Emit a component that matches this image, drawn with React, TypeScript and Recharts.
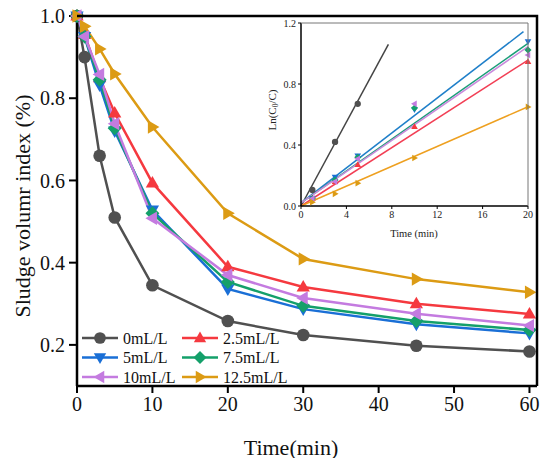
import { LineChart, Line, XAxis, YAxis, Label } from 'recharts'

// settling curves of sludge volume index, six dosages
const TIME = [0, 1, 3, 5, 10, 20, 30, 45, 60]
const SVI_0 = [1.0, 0.9, 0.66, 0.51, 0.345, 0.258, 0.224, 0.198, 0.184]
const SVI_25 = [1.0, 0.955, 0.85, 0.764, 0.594, 0.39, 0.341, 0.3, 0.275]
const SVI_5 = [1.0, 0.95, 0.832, 0.72, 0.528, 0.336, 0.287, 0.25, 0.228]
const SVI_75 = [1.0, 0.95, 0.845, 0.727, 0.52, 0.353, 0.295, 0.258, 0.236]
const SVI_10 = [1.0, 0.95, 0.858, 0.738, 0.508, 0.37, 0.314, 0.276, 0.247]
const SVI_125 = [1.0, 0.975, 0.92, 0.859, 0.73, 0.52, 0.409, 0.36, 0.328]

const X_TICKS = [0, 10, 20, 30, 40, 50, 60]
const Y_TICKS = [0.2, 0.4, 0.6, 0.8, 1.0]

// inset: Ln(C0/C) against time, points and fitted lines
const IN_TIME = [1, 3, 5, 10, 20]
const IN_TIME_0 = [1, 3, 5]
const LN_0 = [0.105, 0.42, 0.67]
const LN_25 = [0.05, 0.16, 0.27, 0.52, 0.946]
const LN_5 = [0.05, 0.19, 0.33, 0.632, 1.078]
const LN_75 = [0.05, 0.17, 0.32, 0.643, 1.023]
const LN_10 = [0.05, 0.16, 0.31, 0.67, 0.99]
const LN_125 = [0.025, 0.08, 0.15, 0.315, 0.65]

const FIT_X_0 = [0, 7.7]
const FIT_Y_0 = [0.0, 1.06]
const FIT_X = [0, 20]
const FIT_X_5 = [0, 19.6]
const FIT_Y_25 = [0.0, 0.957]
const FIT_Y_5 = [0.02, 1.143]
const FIT_Y_75 = [0.02, 1.066]
const FIT_Y_10 = [0.02, 1.045]
const FIT_Y_125 = [0.0, 0.651]

const IN_X_TICKS = [0, 4, 8, 12, 16, 20]
const IN_Y_TICKS = [0, 0.4, 0.8, 1.2]

const SERIF = 'Liberation Serif'

type Shape = 'circle' | 'up' | 'down' | 'diamond' | 'left' | 'right'

const toRows = (xs: number[], ys: number[]) => xs.map((x, i) => ({ x, y: ys[i] }))

const SERIES = [
  { name: '0mL/L', values: SVI_0, color: '#505050', shape: 'circle' as Shape },
  { name: '2.5mL/L', values: SVI_25, color: '#f5393f', shape: 'up' as Shape },
  { name: '5mL/L', values: SVI_5, color: '#1a6fd6', shape: 'down' as Shape },
  { name: '7.5mL/L', values: SVI_75, color: '#14a06a', shape: 'diamond' as Shape },
  { name: '10mL/L', values: SVI_10, color: '#c47be0', shape: 'left' as Shape },
  { name: '12.5mL/L', values: SVI_125, color: '#dc9b14', shape: 'right' as Shape },
]

const INSET = [
  { id: 'k0', px: IN_TIME_0, py: LN_0, fx: FIT_X_0, fy: FIT_Y_0, color: '#505050', line: '#444444', shape: 'circle' as Shape },
  { id: 'k25', px: IN_TIME, py: LN_25, fx: FIT_X, fy: FIT_Y_25, color: '#f5393f', line: '#f23f55', shape: 'up' as Shape },
  { id: 'k5', px: IN_TIME, py: LN_5, fx: FIT_X_5, fy: FIT_Y_5, color: '#1a6fd6', line: '#1f7fc9', shape: 'down' as Shape },
  { id: 'k75', px: IN_TIME, py: LN_75, fx: FIT_X, fy: FIT_Y_75, color: '#14a06a', line: '#1a9e78', shape: 'diamond' as Shape },
  { id: 'k10', px: IN_TIME, py: LN_10, fx: FIT_X, fy: FIT_Y_10, color: '#c47be0', line: '#c98bdc', shape: 'left' as Shape },
  { id: 'k125', px: IN_TIME, py: LN_125, fx: FIT_X, fy: FIT_Y_125, color: '#dc9b14', line: '#eea020', shape: 'right' as Shape },
]

function Glyph({ shape, cx, cy, r, color }: { shape: Shape; cx: number; cy: number; r: number; color: string }) {
  const join = (arr: number[][]) => arr.map((q) => q.join(',')).join(' ')
  if (shape === 'circle') return <circle cx={cx} cy={cy} r={r * 0.9} fill={color} />
  let poly: number[][] = []
  if (shape === 'up') poly = [[cx, cy - r], [cx + r * 0.95, cy + r * 0.65], [cx - r * 0.95, cy + r * 0.65]]
  if (shape === 'down') poly = [[cx, cy + r], [cx + r * 0.95, cy - r * 0.65], [cx - r * 0.95, cy - r * 0.65]]
  if (shape === 'left') poly = [[cx - r, cy], [cx + r * 0.65, cy - r * 0.95], [cx + r * 0.65, cy + r * 0.95]]
  if (shape === 'right') poly = [[cx + r, cy], [cx - r * 0.65, cy - r * 0.95], [cx - r * 0.65, cy + r * 0.95]]
  if (shape === 'diamond') poly = [[cx, cy - r], [cx + r, cy], [cx, cy + r], [cx - r, cy]]
  return <polygon points={join(poly)} fill={color} />
}

const dotOf = (shape: Shape, color: string, r: number) => (props: any) => {
  const { cx, cy, index } = props
  if (cx == null || cy == null) return <g key={index} />
  return (
    <g key={index}>
      <Glyph shape={shape} cx={cx} cy={cy} r={r} color={color} />
    </g>
  )
}

const AXIS = { stroke: '#000', strokeWidth: 2.5 }
const TICK_LINE = { stroke: '#000', strokeWidth: 2 }

function KineticsInset() {
  const tick = { fill: '#222', fontSize: 10, fontFamily: SERIF }
  return (
    <div style={{ position: 'absolute', left: 250, top: 15 }}>
      <LineChart width={285} height={235} margin={{ top: 8, right: 7, bottom: 24, left: 25 }}>
        <XAxis
          dataKey="x" type="number" domain={[0, 20]} ticks={IN_X_TICKS} height={20}
          tick={tick} tickSize={3} tickMargin={2}
          axisLine={{ stroke: '#000', strokeWidth: 1.5 }} tickLine={{ stroke: '#000' }}
        >
          <Label content={() => (
            <text x={164} y={222} textAnchor="middle" fontSize={10.5} fontFamily={SERIF} fill="#222">Time (min)</text>
          )} />
        </XAxis>
        <YAxis
          type="number" domain={[0, 1.2]} ticks={IN_Y_TICKS} width={26}
          tick={tick} tickSize={3} tickMargin={2} tickFormatter={(v: number) => v.toFixed(1)}
          axisLine={{ stroke: '#000', strokeWidth: 1.5 }} tickLine={{ stroke: '#000' }}
        >
          <Label content={() => (
            <text x={22} y={95} textAnchor="middle" fontSize={11} fontFamily={SERIF} fill="#222"
              transform="rotate(-90 22 95)" dominantBaseline="central">
              Ln(C<tspan fontSize={7.5} dy={3}>0</tspan><tspan dy={-3}>/C)</tspan>
            </text>
          )} />
        </YAxis>
        {INSET.map((s) => (
          <Line key={s.id + '-fit'} data={toRows(s.fx, s.fy)} dataKey="y" stroke={s.line} strokeWidth={1.5}
            dot={false} isAnimationActive={false} />
        ))}
        {INSET.map((s) => (
          <Line key={s.id + '-pts'} data={toRows(s.px, s.py)} dataKey="y" stroke="none" strokeWidth={0}
            dot={dotOf(s.shape, s.color, 3.5)} isAnimationActive={false} />
        ))}
      </LineChart>
    </div>
  )
}

function LegendAndFrame() {
  const rows = [338, 357.5, 377]
  const cols = [82, 182]
  return (
    <svg width={550} height={466} style={{ position: 'absolute', left: 0, top: 0, pointerEvents: 'none' }}>
      <path d="M77 16 H537 V386" fill="none" stroke="#000" strokeWidth={2.5} />
      <path d="M301 23 H528 V206" fill="none" stroke="#777" strokeWidth={1} />
      {SERIES.map((s, i) => {
        const x0 = cols[i % 2]
        const y = rows[Math.floor(i / 2)]
        return (
          <g key={s.name}>
            <line x1={x0} x2={x0 + 36} y1={y} y2={y} stroke={s.color} strokeWidth={2.5} />
            <Glyph shape={s.shape} cx={x0 + 18} cy={y} r={6.5} color={s.color} />
            <text x={x0 + 41} y={y} dominantBaseline="central" fontSize={16} fontFamily={SERIF} fill="#111">{s.name}</text>
          </g>
        )
      })}
    </svg>
  )
}

export default function App() {
  const tick = { fill: '#111', fontSize: 20, fontFamily: SERIF }
  return (
    <div style={{ position: 'relative', width: 550, height: 466, margin: -8, background: '#fff' }}>
      <LineChart width={550} height={466} margin={{ top: 16, right: 13, bottom: 50, left: 17 }}>
        <XAxis
          dataKey="x" type="number" domain={[0, 61]} ticks={X_TICKS} height={30}
          tick={tick} tickSize={7} tickMargin={4} axisLine={AXIS} tickLine={TICK_LINE}
        >
          <Label content={() => (
            <text x={291} y={455} textAnchor="middle" fontSize={22} fontFamily={SERIF} fill="#111">Time(min)</text>
          )} />
        </XAxis>
        <YAxis
          type="number" domain={[0.1, 1.0]} ticks={Y_TICKS} width={60}
          tick={tick} tickSize={8} tickMargin={4} tickFormatter={(v: number) => v.toFixed(1)}
          axisLine={AXIS} tickLine={TICK_LINE}
        >
          <Label content={() => (
            <text x={22} y={206} textAnchor="middle" dominantBaseline="central" fontSize={22}
              fontFamily={SERIF} fill="#111" transform="rotate(-90 22 206)">Sludge volumr index (%)</text>
          )} />
        </YAxis>
        {SERIES.map((s) => (
          <Line key={s.name} data={toRows(TIME, s.values)} dataKey="y" name={s.name} stroke={s.color}
            strokeWidth={2.5} dot={dotOf(s.shape, s.color, 7)} isAnimationActive={false} />
        ))}
      </LineChart>
      <KineticsInset />
      <LegendAndFrame />
    </div>
  )
}
